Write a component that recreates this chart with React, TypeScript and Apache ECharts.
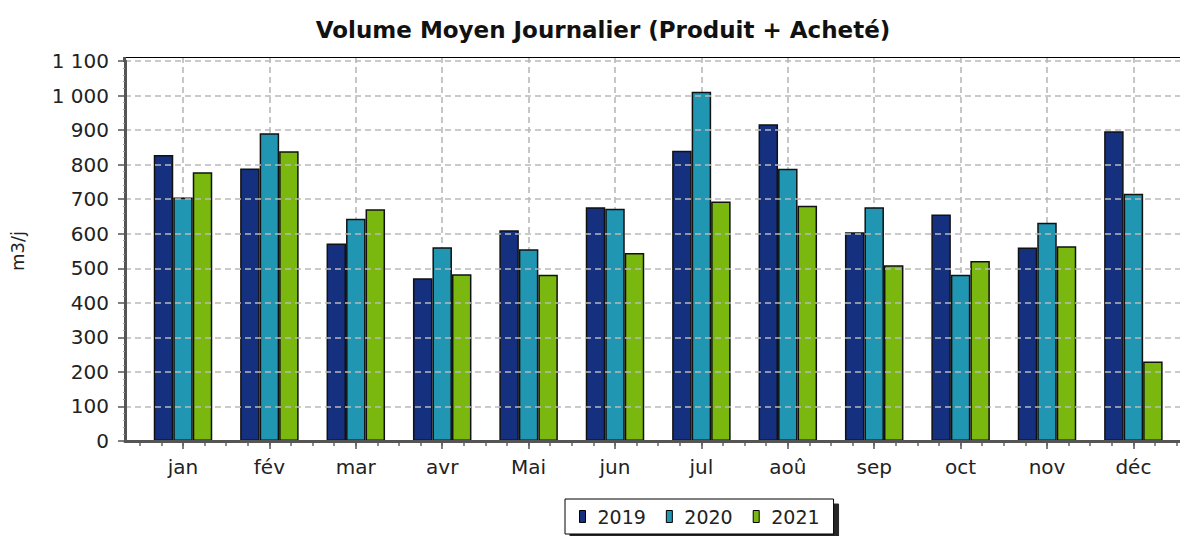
import React, { useEffect, useRef } from "react";
import * as echarts from "echarts";

const months = ["jan", "fév", "mar", "avr", "Mai", "jun", "jul", "aoû", "sep", "oct", "nov", "déc"];
const v2019 = [828, 789, 572, 471, 610, 677, 840, 917, 604, 656, 560, 897];
const v2020 = [705, 891, 643, 561, 555, 672, 1011, 788, 677, 481, 632, 716];
const v2021 = [778, 839, 671, 483, 481, 544, 693, 681, 509, 521, 564, 230];
const seriesNames = ["2019", "2020", "2021"];
const seriesColors = ["#15307f", "#2096b3", "#7ab80f"];
const yTickMax = 1100;

const FONT = "DejaVu Sans";
const Y_MAX_EXT = (yTickMax * 384) / 380;

const fmt = (v: number) => String(Math.round(v)).replace(/\B(?=(\d{3})+(?!\d))/g, " ");

export default function App() {
  const ref = useRef<HTMLDivElement>(null);
  useEffect(() => {
    if (!ref.current) return;
    const chart = echarts.init(ref.current, null, { renderer: "svg" });
    const values = [v2019, v2020, v2021];
    const dash = { color: "#b9b9b9", width: 1.6, type: [6, 4] as any };
    chart.setOption({
      animation: false,
      backgroundColor: "#ffffff",
      title: {
        text: "Volume Moyen Journalier (Produit + Acheté)",
        left: 598,
        textAlign: "center",
        top: 13,
        textStyle: { fontFamily: FONT, fontSize: 23, fontWeight: "bold", color: "#111" },
      },
      legend: {
        data: seriesNames,
        left: 565,
        top: 499,
        itemWidth: 6,
        itemHeight: 12,
        itemGap: 20,
        padding: [8, 14, 8, 14],
        backgroundColor: "#fff",
        borderColor: "#000",
        borderWidth: 1,
        borderRadius: 0,
        shadowColor: "rgba(0,0,0,0.85)",
        shadowBlur: 0,
        shadowOffsetX: 5,
        shadowOffsetY: 5,
        icon: "rect",
        itemStyle: { borderColor: "#000", borderWidth: 1 },
        textStyle: { fontFamily: FONT, fontSize: 19, color: "#222", padding: [0, 0, 0, 7] },
      },
      graphic: [
        {
          type: "line",
          shape: { x1: 125, y1: 57.5, x2: 1180, y2: 57.5 },
          style: { stroke: "#000", lineWidth: 1.2 },
          z: 100,
        },
        {
          type: "line",
          shape: { x1: 124.5, y1: 57, x2: 124.5, y2: 62 },
          style: { stroke: "#555", lineWidth: 3 },
          z: 100,
        },
      ],
      grid: [
        { left: 125, right: 0, top: 61, bottom: 95 },
        { left: 139.8, width: 1036.8, top: 57, bottom: 95 },
        { left: 139.8, width: 1036.8, top: 57, bottom: 95 },
      ],
      xAxis: [
        {
          gridIndex: 0,
          type: "value",
          position: "bottom",
          min: 0,
          max: 1,
          axisLine: { show: true, lineStyle: { color: "#555", width: 3 } },
          axisTick: { show: false },
          axisLabel: { show: false },
          splitLine: { show: false },
          z: 10,
        },
        {
          gridIndex: 1,
          type: "category",
          position: "bottom",
          data: months,
          boundaryGap: true,
          axisLine: { show: false },
          axisTick: { show: true, alignWithLabel: true, length: 8, lineStyle: { color: "#555", width: 1.5 } },
          axisLabel: { fontFamily: FONT, fontSize: 20, color: "#222", margin: 16 },
          splitLine: { show: true, alignWithLabel: true, lineStyle: dash },
        },
        {
          gridIndex: 2,
          type: "value",
          position: "bottom",
          min: 0,
          max: 12,
          interval: 0.25,
          axisLine: { show: true, onZero: false, lineStyle: { color: "rgba(0,0,0,0)", width: 1 } },
          axisTick: { show: true, length: 5, lineStyle: { color: "#666", width: 1.5 } },
          axisLabel: { show: true, color: "rgba(0,0,0,0)", fontSize: 1, formatter: () => "" },
          splitLine: { show: false },
          z: 9,
        },
      ],
      yAxis: [
        {
          gridIndex: 0,
          type: "value",
          min: 0,
          max: yTickMax,
          interval: 100,
          name: "m3/j",
          nameLocation: "middle",
          nameGap: 99,
          nameTextStyle: { fontFamily: FONT, fontSize: 18, color: "#222" },
          axisLine: { show: true, lineStyle: { color: "#555", width: 3 } },
          axisTick: { show: true, length: 7, lineStyle: { color: "#555", width: 1.5 } },
          minorTick: { show: true, splitNumber: 5, length: 2, lineStyle: { color: "#999" } },
          axisLabel: {
            fontFamily: FONT,
            fontSize: 20,
            color: "#222",
            margin: 16,
            formatter: (v: number) => fmt(v),
          },
          splitLine: { show: true, lineStyle: dash },
          z: 10,
        },
        {
          gridIndex: 1,
          type: "value",
          min: 0,
          max: Y_MAX_EXT,
          show: false,
          splitLine: { show: false },
        },
        {
          gridIndex: 2,
          type: "value",
          min: 0,
          max: Y_MAX_EXT,
          show: false,
          splitLine: { show: false },
        },
      ],
      series: values.map((d, i) => ({
        type: "bar",
        name: seriesNames[i],
        xAxisIndex: 1,
        yAxisIndex: 1,
        data: d,
        barWidth: 19.5,
        barGap: "0%",
        itemStyle: { color: seriesColors[i], borderColor: "#111", borderWidth: 1.5 },
        z: 5,
      })),
    });
    return () => chart.dispose();
  }, []);
  return <div ref={ref} style={{ position: "absolute", left: 0, top: 0, width: 1180, height: 536 }} />;
}
